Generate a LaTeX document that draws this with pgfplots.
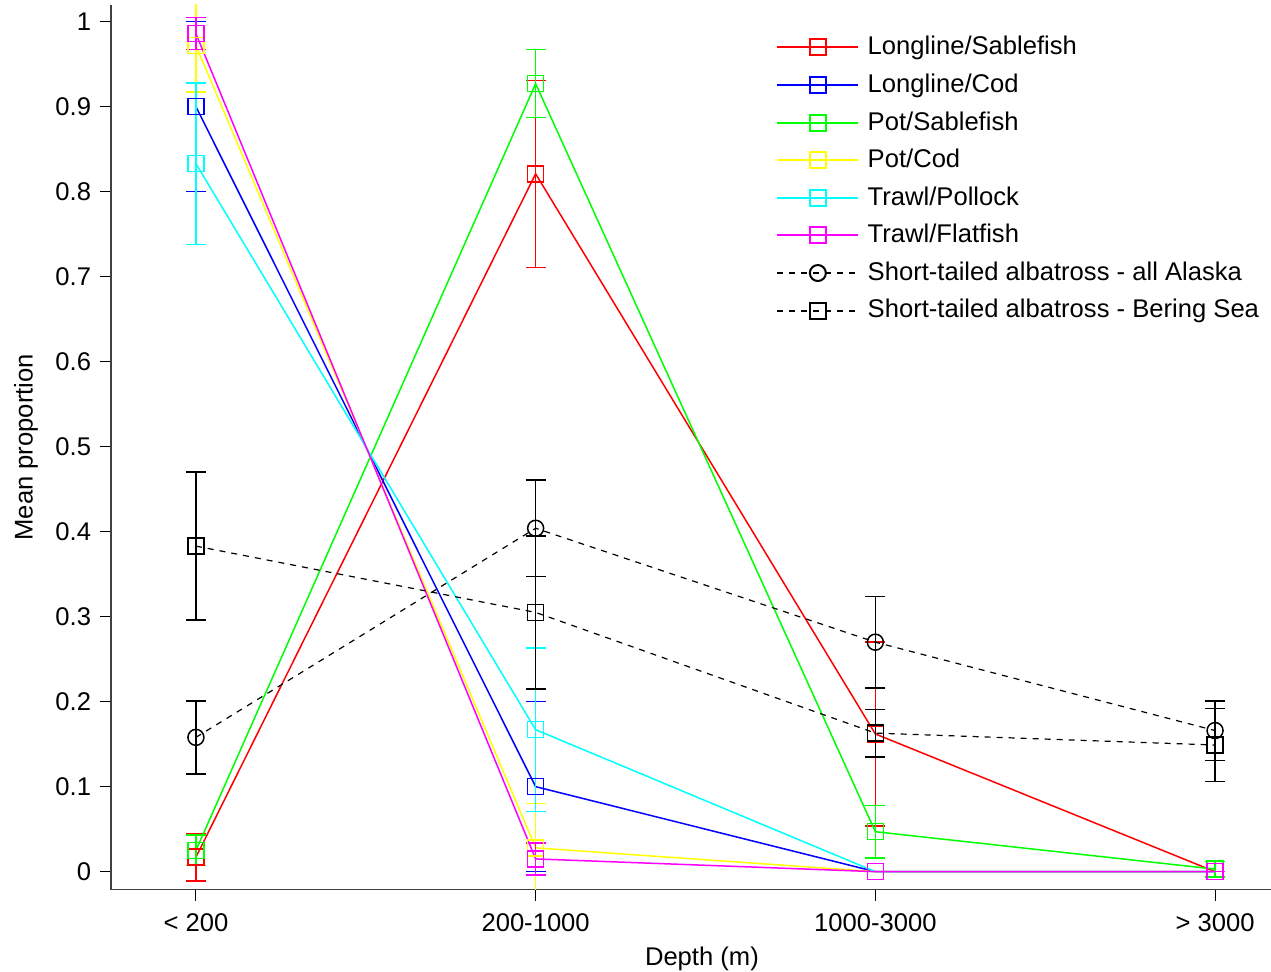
\documentclass[border=0pt]{standalone}
\usepackage{fontspec}
\setmainfont{Liberation Sans}
\usepackage{pgfplots}
\pgfplotsset{compat=1.18}
\definecolor{cR}{rgb}{1,0,0}
\definecolor{cB}{rgb}{0,0,1}
\definecolor{cG}{rgb}{0,1,0}
\definecolor{cY}{rgb}{1,1,0}
\definecolor{cC}{rgb}{0,1,1}
\definecolor{cM}{rgb}{1,0,1}
\pgfplotsset{
  ser/.style={color=#1, line width=0.75pt, mark=square, mark size=4pt, mark options={solid, draw=#1, fill=none, line width=0.75pt},
    error bars/y dir=both, error bars/y explicit,
    error bars/error bar style={color=#1, line width=0.75pt, solid},
    error bars/error mark=-,
    error bars/error mark options={rotate=90, color=#1, mark size=5pt, line width=0.75pt, solid}},
}
\begin{document}
\fontsize{12.8}{15}\selectfont
\begin{tikzpicture}
\begin{axis}[
  at={(0,0)}, anchor=south west,
  scale only axis, width=594.5pt, height=442.35pt,
  xmin=0.75, xmax=4.25, ymin=-0.0212, ymax=1.0196,
  axis x line=bottom, axis y line=left,
  axis line style={-, line width=0.6pt, black!75},
  xtick={1,2,3,4},
  xticklabels={{< 200},{200-1000},{1000-3000},{> 3000}},
  ytick={0,0.1,0.2,0.3,0.4,0.5,0.6,0.7,0.8,0.9,1},
  yticklabels={0,0.1,0.2,0.3,0.4,0.5,0.6,0.7,0.8,0.9,1},
  tick align=outside, major tick length=5.5pt,
  tick style={black, line width=0.5pt},
  ticklabel style={font=\fontsize{12.8}{15}\selectfont},
  xticklabel style={yshift=-2pt},
  xlabel={Depth (m)}, ylabel={Mean proportion},
  label style={font=\fontsize{12.8}{15}\selectfont},
  xlabel style={at={(axis description cs:0.497,-0.0785)}, anchor=center},
  ylabel style={at={(axis description cs:-0.0715,0.5)}, anchor=center},
  legend style={draw=none, fill=none, at={(axis description cs:0.5542,0.9741)}, anchor=north west,
    font=\fontsize{12.8}{15}\selectfont, row sep=3.6pt, column sep=2.2pt},
  legend cell align=left,
  legend image code/.code={\draw[line width=1pt, mark options={solid, line width=1pt}, mark repeat=2,mark phase=2] plot coordinates {(0pt,0pt) (20.25pt,0pt) (40.5pt,0pt)};},
]
\addplot[ser=cR] table[x=x,y=y,y error=e] {
x y e
1 0.017 0.028
2 0.821 0.110
3 0.162 0.108
4 0.000 0.000
};
\addlegendentry{Longline/Sablefish}
\addplot[ser=cB] table[x=x,y=y,y error=e] {
x y e
1 0.900 0.100
2 0.100 0.100
3 0.000 0.000
4 0.000 0.000
};
\addlegendentry{Longline/Cod}
\addplot[ser=cG] table[x=x,y=y,y error=e] {
x y e
1 0.025 0.018
2 0.927 0.040
3 0.047 0.031
4 0.003 0.009
};
\addlegendentry{Pot/Sablefish}
\addplot[ser=cY] table[x=x,y=y,y error=e] {
x y e
1 0.972 0.055
2 0.028 0.052
3 0.000 0.000
4 0.000 0.000
};
\addlegendentry{Pot/Cod}
\addplot[ser=cC] table[x=x,y=y,y error=e] {
x y e
1 0.833 0.095
2 0.167 0.096
3 0.000 0.000
4 0.000 0.000
};
\addlegendentry{Trawl/Pollock}
\addplot[ser=cM] table[x=x,y=y,y error=e] {
x y e
1 0.986 0.019
2 0.015 0.019
3 0.000 0.000
4 0.000 0.000
};
\addlegendentry{Trawl/Flatfish}
\addplot[ser=black, line width=0.6pt, mark=o, dash pattern=on 3pt off 3pt] table[x=x,y=y,y error=e] {
x y e
1 0.158 0.043
2 0.404 0.057
3 0.270 0.054
4 0.166 0.035
};
\addlegendentry{Short-tailed albatross - all Alaska}
\addplot[ser=black, line width=0.6pt, dash pattern=on 3pt off 3pt] table[x=x,y=y,y error=e] {
x y e
1 0.383 0.087
2 0.305 0.090
3 0.163 0.028
4 0.149 0.043
};
\addlegendentry{Short-tailed albatross - Bering Sea}
\end{axis}
\pgfresetboundingbox
\useasboundingbox (-55.5pt,-41.15pt) rectangle (580pt,444.85pt);
\end{tikzpicture}
\end{document}
